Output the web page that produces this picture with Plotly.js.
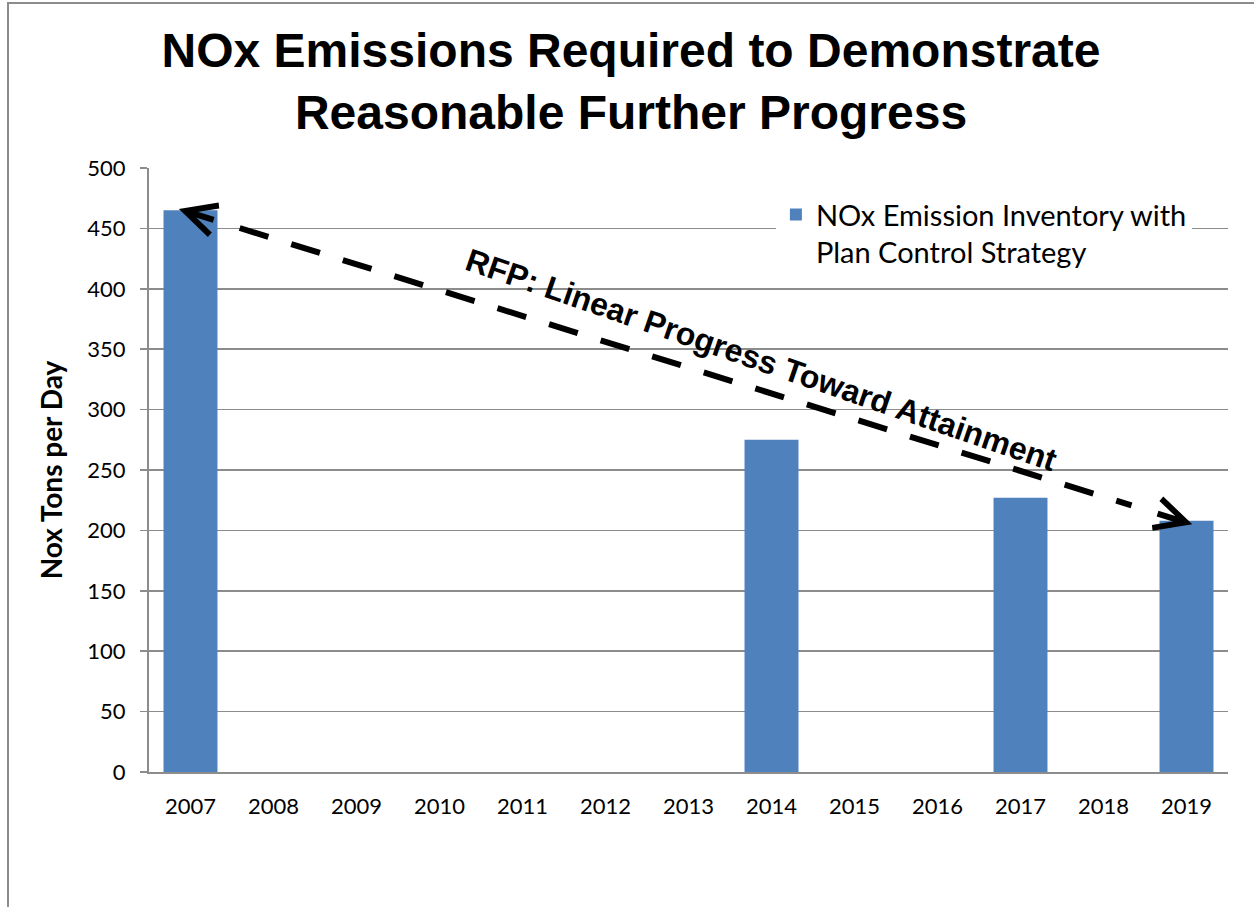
<!DOCTYPE html>
<html>
<head>
<meta charset="utf-8">
<script src="https://cdn.plot.ly/plotly-3.0.1.min.js"></script>
<style>
  html, body { margin: 0; padding: 0; background: #fff; }
  #wrap { position: relative; width: 1254px; height: 907px; overflow: hidden; }
  #chart { width: 1254px; height: 907px; }
  #frame { position: absolute; left: 7px; top: 2px; right: -10px; bottom: -10px;
           border-top: 2px solid #8c8c8c; border-left: 2px solid #8c8c8c; pointer-events: none; }
</style>
</head>
<body>
<div id="wrap">
  <div id="chart"></div>
  <div id="frame"></div>
</div>
<script>
// ---- data ----
const years = ['2007','2008','2009','2010','2011','2012','2013','2014','2015','2016','2017','2018','2019'];
const noxInventory = [465, null, null, null, null, null, null, 275, null, null, 227, null, 208];
const seriesName = 'NOx Emission Inventory with<br>Plan Control Strategy';
const yTicks = [0, 50, 100, 150, 200, 250, 300, 350, 400, 450, 500];
// RFP linear progress arrow: start (2007 level) and end (2019 level), in axis units (category index, tons/day)
const rfpX = [-0.14, 12.07];
const rfpY = [466, 205];
const rfpLabel = 'RFP: Linear Progress Toward Attainment';
const chartTitle = 'NOx Emissions Required to Demonstrate<br>Reasonable Further Progress';
const yTitle = 'Nox Tons per Day';

const GRID = '#8c8c8c';
const BLUE = '#4F81BD';
const BODY_FONT = 'Lato, "Open Sans", sans-serif';

const trace = {
  type: 'bar',
  x: years,
  y: noxInventory,
  name: seriesName,
  marker: { color: BLUE },
  showlegend: true,
  hoverinfo: 'x+y'
};

// dashed line inset a little from the arrow tips
const inset = 0.06;
const lx0 = rfpX[0] + (rfpX[1] - rfpX[0]) * inset;
const ly0 = rfpY[0] + (rfpY[1] - rfpY[0]) * inset;
const lx1 = rfpX[1] - (rfpX[1] - rfpX[0]) * inset;
const ly1 = rfpY[1] - (rfpY[1] - rfpY[0]) * inset;

const headLen = 38;
const ang = Math.atan2(316, 1013);
const hx = headLen * Math.cos(ang), hy = headLen * Math.sin(ang);

const layout = {
  width: 1254,
  height: 907,
  margin: { l: 149, r: 26, t: 168, b: 135 },
  paper_bgcolor: '#ffffff',
  plot_bgcolor: '#ffffff',
  bargap: 0.35,
  title: {
    text: chartTitle,
    font: { family: '"Liberation Sans", Arial, sans-serif', size: 48, color: '#000', weight: 'bold' },
    x: 0.5 + 4 / 1254, xref: 'container', xanchor: 'center',
    y: 1 - 67 / 907, yref: 'container', yanchor: 'top'
  },
  xaxis: {
    type: 'category',
    categoryorder: 'array',
    categoryarray: years,
    range: [-0.5, 12.5],
    showgrid: false,
    showline: true,
    linecolor: GRID,
    linewidth: 2,
    ticks: '',
    ticklabelstandoff: 14,
    tickfont: { family: BODY_FONT, size: 22, color: '#000' },
    fixedrange: true
  },
  yaxis: {
    range: [0, 500],
    tickmode: 'array',
    tickvals: yTicks,
    ticktext: yTicks.map(String),
    showgrid: true,
    gridcolor: GRID,
    gridwidth: 1.5,
    zeroline: false,
    showline: true,
    linecolor: GRID,
    linewidth: 2,
    ticks: 'outside',
    ticklen: 7,
    tickwidth: 1.5,
    tickcolor: GRID,
    ticklabelstandoff: 10,
    tickfont: { family: BODY_FONT, size: 22, color: '#000' },
    title: {
      text: yTitle,
      font: { family: BODY_FONT, size: 28, color: '#000', weight: 'bold' },
      standoff: 17
    },
    fixedrange: true
  },
  legend: {
    x: 0.581, xanchor: 'left',
    y: 0.965, yanchor: 'top',
    bgcolor: '#ffffff',
    borderwidth: 0,
    valign: 'top',
    font: { family: BODY_FONT, size: 29, color: '#000' }
  },
  shapes: [
    {
      type: 'line', xref: 'x', yref: 'y',
      x0: lx0, y0: ly0, x1: lx1, y1: ly1,
      line: { color: '#000', width: 6, dash: '30px,24px' }
    }
  ],
  annotations: [
    {
      x: rfpX[0], y: rfpY[0], xref: 'x', yref: 'y',
      text: '', showarrow: true, arrowhead: 5, arrowsize: 1, arrowwidth: 6, arrowcolor: '#000',
      axref: 'pixel', ayref: 'pixel', ax: hx, ay: hy, standoff: 0
    },
    {
      x: rfpX[1], y: rfpY[1], xref: 'x', yref: 'y',
      text: '', showarrow: true, arrowhead: 5, arrowsize: 1, arrowwidth: 6, arrowcolor: '#000',
      axref: 'pixel', ayref: 'pixel', ax: -hx, ay: -hy, standoff: 0
    },
    {
      x: 6.88, y: 341, xref: 'x', yref: 'y',
      text: '<b>' + rfpLabel + '</b>', showarrow: false, textangle: 19,
      font: { family: '"Liberation Sans", Arial, sans-serif', size: 32, color: '#000' }
    }
  ]
};

Plotly.newPlot('chart', [trace], layout, { staticPlot: true, displayModeBar: false });
</script>
</body>
</html>
